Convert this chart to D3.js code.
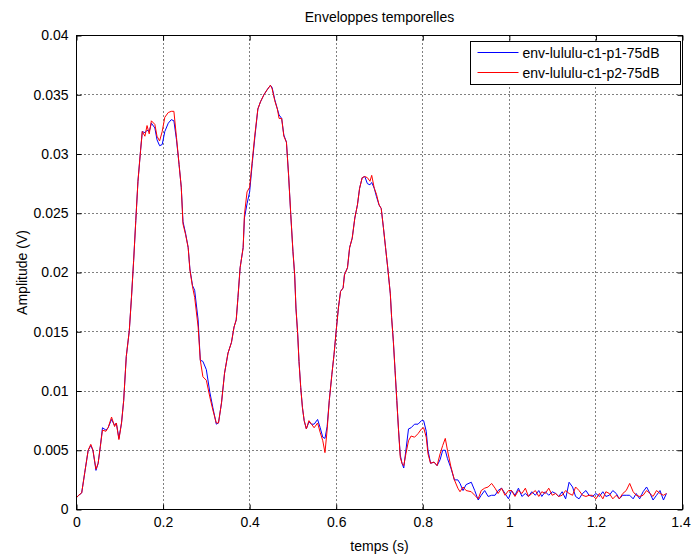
<!DOCTYPE html>
<html>
<head>
<meta charset="utf-8">
<script src="https://cdn.jsdelivr.net/npm/d3@7"></script>
<style>
body { margin: 0; background: #fff; }
text { font-family: "Liberation Sans", Arial, sans-serif; font-size: 14px; fill: #000; }
</style>
</head>
<body>
<script>
// temps (s)
var temps = [
  0.000,0.005,0.012,0.019,0.027,0.033,0.038,0.045,0.050,0.055,
  0.060,0.068,0.073,0.081,0.088,0.092,0.098,0.104,0.109,0.115,
  0.122,0.127,0.132,0.137,0.142,0.148,0.152,0.158,0.163,0.168,
  0.173,0.181,0.186,0.192,0.198,0.204,0.212,0.219,0.225,0.231,
  0.237,0.242,0.246,0.252,0.258,0.262,0.268,0.273,0.281,0.286,
  0.292,0.300,0.308,0.315,0.323,0.328,0.335,0.342,0.350,0.358,
  0.364,0.369,0.373,0.378,0.385,0.388,0.394,0.400,0.406,0.412,
  0.419,0.425,0.433,0.440,0.448,0.452,0.458,0.464,0.468,0.474,
  0.479,0.485,0.490,0.495,0.500,0.504,0.507,0.511,0.514,0.518,
  0.522,0.526,0.531,0.537,0.543,0.549,0.557,0.563,0.569,0.574,
  0.579,0.584,0.590,0.595,0.600,0.605,0.610,0.616,0.619,0.626,
  0.631,0.637,0.643,0.649,0.654,0.660,0.666,0.672,0.678,0.682,
  0.688,0.693,0.699,0.704,0.709,0.714,0.719,0.725,0.728,0.732,
  0.736,0.740,0.744,0.748,0.752,0.756,0.761,0.767,0.773,0.781,
  0.789,0.797,0.802,0.808,0.812,0.818,0.826,0.833,0.840,0.846,
  0.852,0.857,0.865,0.873,0.881,0.886,
  0.893,0.900,0.912,0.920,0.928,0.935,0.943,0.951,0.959,0.967,
  0.974,0.982,0.990,0.998,1.005,1.013,1.021,1.029,1.037,1.044,
  1.052,1.060,1.068,1.075,1.083,1.091,1.099,1.107,1.114,1.122,
  1.130,1.138,1.146,1.153,1.161,1.169,1.177,1.184,1.192,1.200,
  1.208,1.216,1.223,1.231,1.239,1.247,1.254,1.262,1.270,1.278,
  1.286,1.293,1.301,1.309,1.317,1.325,1.332,1.340,1.348,1.356,
  1.363
];

// env-lululu-c1-p1-75dB (V) - bleu
var p1 = [
  0.0010,0.0012,0.0014,0.0031,0.0050,0.0054,0.0050,0.0033,0.0039,0.0053,
  0.0069,0.0067,0.0069,0.0076,0.0071,0.0073,0.0060,0.0073,0.0092,0.0129,
  0.0151,0.0179,0.0210,0.0244,0.0277,0.0303,0.0319,0.0318,0.0320,0.0319,
  0.0326,0.0322,0.0312,0.0307,0.0308,0.0319,0.0326,0.0329,0.0328,0.0312,
  0.0291,0.0272,0.0243,0.0233,0.0221,0.0203,0.0189,0.0185,0.0160,0.0126,
  0.0125,0.0118,0.0099,0.0086,0.0072,0.0073,0.0090,0.0115,0.0132,0.0141,
  0.0154,0.0160,0.0179,0.0204,0.0221,0.0246,0.0258,0.0268,0.0292,0.0314,
  0.0338,0.0344,0.0350,0.0354,0.0358,0.0356,0.0346,0.0338,0.0333,0.0330,
  0.0316,0.0310,0.0282,0.0249,0.0218,0.0198,0.0170,0.0148,0.0125,0.0103,
  0.0086,0.0075,0.0068,0.0074,0.0072,0.0072,0.0076,0.0069,0.0061,0.0060,
  0.0070,0.0092,0.0114,0.0131,0.0151,0.0170,0.0184,0.0187,0.0198,0.0204,
  0.0221,0.0229,0.0246,0.0257,0.0271,0.0280,0.0281,0.0275,0.0274,0.0276,
  0.0271,0.0264,0.0257,0.0254,0.0238,0.0221,0.0204,0.0182,0.0162,0.0142,
  0.0117,0.0092,0.0067,0.0046,0.0039,0.0035,0.0050,0.0068,0.0069,0.0072,
  0.0072,0.0075,0.0075,0.0066,0.0050,0.0039,0.0040,0.0037,0.0042,0.0050,
  0.0050,0.0043,0.0035,0.0025,0.0025,0.0022,
  0.0016,0.0021,0.0023,0.0016,0.0008,0.0012,0.0016,0.0011,0.0012,0.0012,
  0.0016,0.0018,0.00135,0.0009,0.0016,0.0012,0.0018,0.0011,0.00135,0.0011,
  0.0015,0.0012,0.0016,0.0011,0.0015,0.0012,0.0015,0.00135,0.0011,0.0015,
  0.0009,0.0023,0.0019,0.0011,0.0009,0.00135,0.0016,0.0012,0.0011,0.00135,
  0.0011,0.0015,0.0011,0.0012,0.0016,0.00135,0.0009,0.0012,0.0012,0.0012,
  0.0009,0.00135,0.0009,0.0015,0.0019,0.00135,0.0008,0.0012,0.0016,0.0008,
  0.00135
];

// env-lululu-c1-p2-75dB (V) - rouge
var p2 = [
  0.0010,0.0012,0.0014,0.0031,0.0050,0.0055,0.0050,0.0034,0.0039,0.0053,
  0.0067,0.0066,0.0069,0.0078,0.0070,0.0073,0.0059,0.0073,0.0092,0.0129,
  0.0151,0.0179,0.0210,0.0244,0.0277,0.0303,0.0319,0.0315,0.0324,0.0317,
  0.0328,0.0325,0.0315,0.0311,0.0319,0.0331,0.0335,0.0336,0.0336,0.0314,
  0.0291,0.0272,0.0241,0.0232,0.0221,0.0202,0.0188,0.0179,0.0154,0.0126,
  0.0112,0.0109,0.0095,0.0084,0.0073,0.0073,0.0090,0.0115,0.0132,0.0141,
  0.0154,0.0160,0.0179,0.0204,0.0221,0.0249,0.0268,0.0272,0.0294,0.0316,
  0.0338,0.0344,0.0350,0.0354,0.0358,0.0355,0.0345,0.0338,0.0330,0.0330,
  0.0315,0.0310,0.0282,0.0249,0.0218,0.0198,0.0170,0.0148,0.0125,0.0103,
  0.0086,0.0075,0.0068,0.0075,0.0072,0.0069,0.0073,0.0065,0.0058,0.0048,
  0.0067,0.0092,0.0114,0.0131,0.0151,0.0170,0.0184,0.0187,0.0198,0.0204,
  0.0221,0.0229,0.0246,0.0257,0.0271,0.0280,0.0281,0.0280,0.0277,0.0282,
  0.0271,0.0266,0.0257,0.0254,0.0238,0.0221,0.0204,0.0182,0.0162,0.0142,
  0.0117,0.0092,0.0067,0.0044,0.0039,0.0037,0.0047,0.0058,0.0062,0.0061,
  0.0064,0.0068,0.0069,0.0061,0.0047,0.0039,0.0040,0.0037,0.0047,0.0054,
  0.0060,0.0050,0.0036,0.0025,0.0018,0.0015,
  0.0019,0.0016,0.0015,0.0012,0.0009,0.0016,0.0018,0.0019,0.0022,0.0018,
  0.00135,0.0018,0.0012,0.0016,0.0016,0.0011,0.0016,0.00135,0.0018,0.0011,
  0.00135,0.0016,0.0011,0.0015,0.00135,0.0018,0.0012,0.00135,0.0011,0.0012,
  0.0016,0.00135,0.0012,0.0019,0.0016,0.0012,0.0011,0.0012,0.0012,0.0009,
  0.00135,0.0009,0.0015,0.00135,0.0009,0.0012,0.0009,0.00135,0.0016,0.0022,
  0.0015,0.0012,0.0011,0.0012,0.0016,0.00135,0.0011,0.0016,0.00135,0.0012,
  0.00135
];

var noms = ["env-lululu-c1-p1-75dB", "env-lululu-c1-p2-75dB"];
var couleurs = ["#0000ff", "#ff0000"];
var xTicks = [0, 0.2, 0.4, 0.6, 0.8, 1, 1.2, 1.4];
var yTicks = [0, 0.005, 0.01, 0.015, 0.02, 0.025, 0.03, 0.035, 0.04];

var margin = { top: 35, right: 9, bottom: 50, left: 76 },
    width = 691 - margin.left - margin.right,
    height = 559 - margin.top - margin.bottom;

var svg = d3.select("body")
    .append("svg")
    .attr("width", 691)
    .attr("height", 559)
    .append("g")
    .attr("transform", "translate(" + (margin.left + 0.5) + "," + (margin.top + 0.5) + ")");

var x = d3.scaleLinear()
    .domain([0, 1.4])
    .range([0, width]);

var y = d3.scaleLinear()
    .domain([0, 0.04])
    .range([height, 0]);

// grille pointillee
svg.append("g")
    .selectAll("line")
    .data(xTicks.slice(1, -1))
    .enter().append("line")
    .attr("x1", function(d) { return Math.round(x(d)); })
    .attr("x2", function(d) { return Math.round(x(d)); })
    .attr("y1", 0)
    .attr("y2", height)
    .attr("stroke", "#000")
    .attr("stroke-dasharray", "1,3");

svg.append("g")
    .selectAll("line")
    .data(yTicks.slice(1, -1))
    .enter().append("line")
    .attr("y1", function(d) { return Math.round(y(d)); })
    .attr("y2", function(d) { return Math.round(y(d)); })
    .attr("x1", 0)
    .attr("x2", width)
    .attr("stroke", "#000")
    .attr("stroke-dasharray", "1,3");

// courbes
var series = [p1, p2];
series.forEach(function(s, i) {
    var pts = temps.map(function(t, j) { return [t, s[j]]; });
    var line = d3.line()
        .x(function(d) { return x(d[0]); })
        .y(function(d) { return y(d[1]); });
    svg.append("path")
        .datum(pts)
        .attr("fill", "none")
        .attr("stroke", couleurs[i])
        .attr("stroke-width", 1)
        .attr("d", line);
});

// axes (graduations vers l'interieur)
var fmt = d3.format("~g");

var xAxis = d3.axisBottom(x).tickValues(xTicks).tickFormat(fmt)
    .tickSizeInner(-5).tickSizeOuter(0).tickPadding(8);
var yAxis = d3.axisLeft(y).tickValues(yTicks).tickFormat(fmt)
    .tickSizeInner(-5).tickSizeOuter(0).tickPadding(8);

var gx = svg.append("g")
    .attr("transform", "translate(0," + height + ")")
    .call(xAxis);
var gy = svg.append("g").call(yAxis);

svg.append("g")
    .call(d3.axisTop(x).tickValues(xTicks).tickFormat("").tickSizeInner(-5).tickSizeOuter(0));
svg.append("g")
    .attr("transform", "translate(" + width + ",0)")
    .call(d3.axisRight(y).tickValues(yTicks).tickFormat("").tickSizeInner(-5).tickSizeOuter(0));

svg.selectAll(".tick text")
    .attr("font-family", "Liberation Sans, Arial, sans-serif")
    .attr("font-size", 13);
// dernier libelle (1.4) garde dans la fenetre
gx.selectAll(".tick text")
    .filter(function(d) { return d === 1.4; })
    .attr("dx", -2);
svg.selectAll(".domain").remove();

svg.append("rect")
    .attr("width", width)
    .attr("height", height)
    .attr("fill", "none")
    .attr("stroke", "#000");

// titres
svg.append("text")
    .attr("x", width / 2)
    .attr("y", -14)
    .attr("text-anchor", "middle")
    .text("Enveloppes temporelles");

svg.append("text")
    .attr("x", width / 2)
    .attr("y", height + 41)
    .attr("text-anchor", "middle")
    .text("temps (s)");

svg.append("text")
    .attr("transform", "translate(-50," + (height / 2) + ") rotate(-90)")
    .attr("text-anchor", "middle")
    .text("Amplitude (V)");

// legende
var lg = svg.append("g")
    .attr("transform", "translate(" + (width - 212) + ",6)");

lg.append("rect")
    .attr("width", 210)
    .attr("height", 43)
    .attr("fill", "#fff")
    .attr("stroke", "#000");

noms.forEach(function(n, i) {
    lg.append("line")
        .attr("x1", 7).attr("x2", 48)
        .attr("y1", 11 + i * 20).attr("y2", 11 + i * 20)
        .attr("stroke", couleurs[i]);
    lg.append("text")
        .attr("x", 52)
        .attr("y", 16 + i * 20)
        .text(n);
});
</script>
</body>
</html>
